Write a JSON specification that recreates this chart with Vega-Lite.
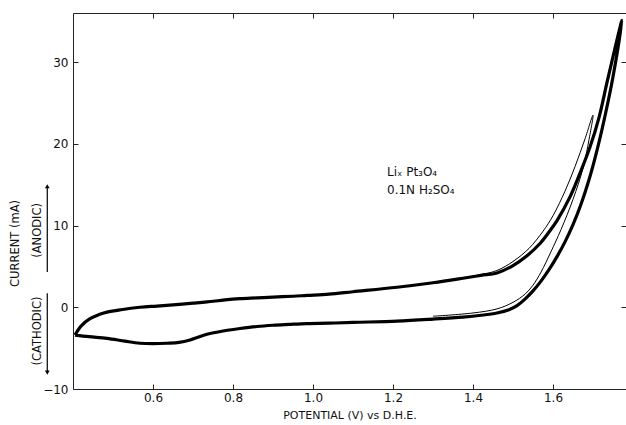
{
  "$schema": "https://vega.github.io/schema/vega-lite/v6.json",
  "width": 553,
  "height": 376,
  "autosize": "none",
  "padding": {"left": 73, "top": 13, "right": 0, "bottom": 36},
  "background": "white",
  "config": {
    "view": {"stroke": null},
    "font": "DejaVu Sans",
    "axis": {"grid": false, "domainColor": "#222", "tickColor": "#222", "labelColor": "#111", "titleColor": "#111", "labelFont": "DejaVu Sans", "titleFont": "DejaVu Sans", "labelFontSize": 12, "titleFontSize": 11, "titleFontWeight": "normal"}
  },
  "resolve": {"axis": {"x": "independent", "y": "independent"}},
  "datasets": {
    "main": [
      {"i": 1, "v": 0.405, "c": -3.4}, {"i": 2, "v": 0.42, "c": -2.3}, {"i": 3, "v": 0.4425, "c": -1.4}, {"i": 4, "v": 0.465, "c": -0.9},
      {"i": 5, "v": 0.485, "c": -0.6}, {"i": 6, "v": 0.52, "c": -0.3}, {"i": 7, "v": 0.5675, "c": 0.0}, {"i": 8, "v": 0.61, "c": 0.15},
      {"i": 9, "v": 0.65, "c": 0.3}, {"i": 10, "v": 0.7, "c": 0.5}, {"i": 11, "v": 0.735, "c": 0.65}, {"i": 12, "v": 0.78, "c": 0.9},
      {"i": 13, "v": 0.8175, "c": 1.05}, {"i": 14, "v": 0.86, "c": 1.15}, {"i": 15, "v": 0.9, "c": 1.25}, {"i": 16, "v": 0.95, "c": 1.35},
      {"i": 17, "v": 0.985, "c": 1.45}, {"i": 18, "v": 1.04, "c": 1.6}, {"i": 19, "v": 1.1, "c": 1.9}, {"i": 20, "v": 1.21, "c": 2.45},
      {"i": 21, "v": 1.3, "c": 3.0}, {"i": 22, "v": 1.375, "c": 3.55}, {"i": 23, "v": 1.42, "c": 3.9}, {"i": 24, "v": 1.46, "c": 4.2},
      {"i": 25, "v": 1.5, "c": 5.1}, {"i": 26, "v": 1.535, "c": 6.3}, {"i": 27, "v": 1.5675, "c": 7.8}, {"i": 28, "v": 1.59, "c": 9.2},
      {"i": 29, "v": 1.61, "c": 10.6}, {"i": 30, "v": 1.6425, "c": 13.5}, {"i": 31, "v": 1.6675, "c": 16.4}, {"i": 32, "v": 1.6925, "c": 19.6},
      {"i": 33, "v": 1.715, "c": 23.2}, {"i": 34, "v": 1.735, "c": 27.5}, {"i": 35, "v": 1.754, "c": 31.5}, {"i": 36, "v": 1.7725, "c": 35.1},
      {"i": 37, "v": 1.75, "c": 28.2}, {"i": 38, "v": 1.73, "c": 23.4}, {"i": 39, "v": 1.71, "c": 19.2}, {"i": 40, "v": 1.69, "c": 15.6},
      {"i": 41, "v": 1.67, "c": 12.6}, {"i": 42, "v": 1.65, "c": 10.1}, {"i": 43, "v": 1.63, "c": 8.0}, {"i": 44, "v": 1.61, "c": 6.2},
      {"i": 45, "v": 1.59, "c": 4.6}, {"i": 46, "v": 1.57, "c": 3.2}, {"i": 47, "v": 1.55, "c": 2.0}, {"i": 48, "v": 1.53, "c": 1.0},
      {"i": 49, "v": 1.51, "c": 0.2}, {"i": 50, "v": 1.49, "c": -0.3}, {"i": 51, "v": 1.46, "c": -0.7},
      {"i": 52, "v": 1.42, "c": -0.98}, {"i": 53, "v": 1.375, "c": -1.2},
      {"i": 54, "v": 1.3, "c": -1.45}, {"i": 55, "v": 1.21, "c": -1.7}, {"i": 56, "v": 1.1, "c": -1.85}, {"i": 57, "v": 1.04, "c": -1.95},
      {"i": 58, "v": 0.985, "c": -2.0}, {"i": 59, "v": 0.94, "c": -2.1}, {"i": 60, "v": 0.9, "c": -2.2}, {"i": 61, "v": 0.86, "c": -2.35},
      {"i": 62, "v": 0.8175, "c": -2.6}, {"i": 63, "v": 0.775, "c": -2.9}, {"i": 64, "v": 0.735, "c": -3.3}, {"i": 65, "v": 0.71, "c": -3.7},
      {"i": 66, "v": 0.6925, "c": -4.0}, {"i": 67, "v": 0.665, "c": -4.3}, {"i": 68, "v": 0.635, "c": -4.4}, {"i": 69, "v": 0.6, "c": -4.45},
      {"i": 70, "v": 0.5675, "c": -4.4}, {"i": 71, "v": 0.53, "c": -4.15}, {"i": 72, "v": 0.485, "c": -3.8}, {"i": 73, "v": 0.44, "c": -3.6},
      {"i": 74, "v": 0.405, "c": -3.4}
    ],
    "thin": [
      {"i": 1, "v": 1.3, "c": 3.05}, {"i": 2, "v": 1.375, "c": 3.6}, {"i": 3, "v": 1.42, "c": 4.0}, {"i": 4, "v": 1.46, "c": 4.5},
      {"i": 5, "v": 1.5, "c": 5.6}, {"i": 6, "v": 1.54, "c": 7.2}, {"i": 7, "v": 1.575, "c": 9.3}, {"i": 8, "v": 1.6, "c": 11.2},
      {"i": 9, "v": 1.63, "c": 14.2}, {"i": 10, "v": 1.655, "c": 17.2}, {"i": 11, "v": 1.68, "c": 20.6}, {"i": 12, "v": 1.7, "c": 23.5},
      {"i": 13, "v": 1.69, "c": 20.5}, {"i": 14, "v": 1.675, "c": 17.0}, {"i": 15, "v": 1.65, "c": 13.2}, {"i": 16, "v": 1.62, "c": 9.5},
      {"i": 17, "v": 1.595, "c": 6.8}, {"i": 18, "v": 1.57, "c": 4.3}, {"i": 19, "v": 1.55, "c": 2.7}, {"i": 20, "v": 1.53, "c": 1.6},
      {"i": 21, "v": 1.5, "c": 0.6}, {"i": 22, "v": 1.46, "c": -0.2}, {"i": 23, "v": 1.4, "c": -0.7}, {"i": 24, "v": 1.3, "c": -1.1}
    ],
    "arrows": [
      {"name": "(ANODIC)", "dir": "up", "v": 0.3357, "c": 4.3, "c2": 14.8, "tv": 0.313, "tc": 9.4},
      {"name": "(CATHODIC)", "dir": "down", "v": 0.3357, "c": 1.7, "c2": -8.0, "tv": 0.313, "tc": -2.9}
    ],
    "label": [
      {"t": "Liₓ Pt₃O₄", "v": 1.185, "c": 16.6},
      {"t": "0.1N H₂SO₄", "v": 1.185, "c": 14.4}
    ]
  },
  "layer": [
    {
      "data": {"name": "main"},
      "mark": {"type": "line", "color": "black", "strokeWidth": 3.2, "interpolate": "catmull-rom", "strokeJoin": "round"},
      "encoding": {
        "x": {"field": "v", "type": "quantitative", "scale": {"domain": [0.4, 1.7825], "nice": false, "zero": false},
          "axis": {"title": "POTENTIAL (V) vs D.H.E.", "values": [0.6, 0.8, 1.0, 1.2, 1.4, 1.6], "format": ".1f", "tickSize": -5, "labelPadding": 8, "titlePadding": 6}},
        "y": {"field": "c", "type": "quantitative", "scale": {"domain": [-10, 36], "nice": false, "zero": false},
          "axis": {"title": "CURRENT (mA)", "values": [-10, 0, 10, 20, 30], "tickSize": -5, "labelPadding": 10, "titleX": -58, "titleY": 230, "titleAngle": 270, "titleAlign": "center", "titleBaseline": "middle", "titleFontSize": 11.5}},
        "order": {"field": "i", "type": "quantitative"}
      }
    },
    {
      "data": {"name": "thin"},
      "mark": {"type": "line", "color": "black", "strokeWidth": 1, "interpolate": "catmull-rom"},
      "encoding": {
        "x": {"field": "v", "type": "quantitative", "axis": null},
        "y": {"field": "c", "type": "quantitative", "axis": null},
        "order": {"field": "i", "type": "quantitative"}
      }
    },
    {
      "data": {"name": "main"},
      "mark": {"type": "line", "strokeWidth": 0, "opacity": 0},
      "encoding": {
        "x": {"field": "v", "type": "quantitative", "axis": {"orient": "top", "labels": false, "title": null, "values": [0.6, 0.8, 1.0, 1.2, 1.4, 1.6], "tickSize": -5}},
        "y": {"field": "c", "type": "quantitative", "axis": {"orient": "right", "labels": false, "title": null, "values": [-10, 0, 10, 20, 30], "tickSize": -5}}
      }
    },
    {
      "data": {"name": "arrows"},
      "mark": {"type": "rule", "color": "black", "strokeWidth": 1.2},
      "encoding": {
        "x": {"field": "v", "type": "quantitative", "axis": null},
        "y": {"field": "c", "type": "quantitative", "axis": null},
        "y2": {"field": "c2"}
      }
    },
    {
      "data": {"name": "arrows"},
      "transform": [{"filter": "datum.dir === 'up'"}],
      "mark": {"type": "point", "shape": "triangle-up", "filled": true, "color": "black", "size": 22, "opacity": 1},
      "encoding": {
        "x": {"field": "v", "type": "quantitative", "axis": null},
        "y": {"field": "c2", "type": "quantitative", "axis": null}
      }
    },
    {
      "data": {"name": "arrows"},
      "transform": [{"filter": "datum.dir === 'down'"}],
      "mark": {"type": "point", "shape": "triangle-down", "filled": true, "color": "black", "size": 22, "opacity": 1},
      "encoding": {
        "x": {"field": "v", "type": "quantitative", "axis": null},
        "y": {"field": "c2", "type": "quantitative", "axis": null}
      }
    },
    {
      "data": {"name": "arrows"},
      "mark": {"type": "text", "angle": 270, "align": "center", "baseline": "middle", "fontSize": 11.5, "color": "#111", "font": "DejaVu Sans"},
      "encoding": {
        "x": {"field": "tv", "type": "quantitative", "axis": null},
        "y": {"field": "tc", "type": "quantitative", "axis": null},
        "text": {"field": "name"}
      }
    },
    {
      "data": {"name": "label"},
      "mark": {"type": "text", "align": "left", "baseline": "middle", "fontSize": 12, "color": "#111", "font": "DejaVu Sans"},
      "encoding": {
        "x": {"field": "v", "type": "quantitative", "axis": null},
        "y": {"field": "c", "type": "quantitative", "axis": null},
        "text": {"field": "t"}
      }
    }
  ]
}
